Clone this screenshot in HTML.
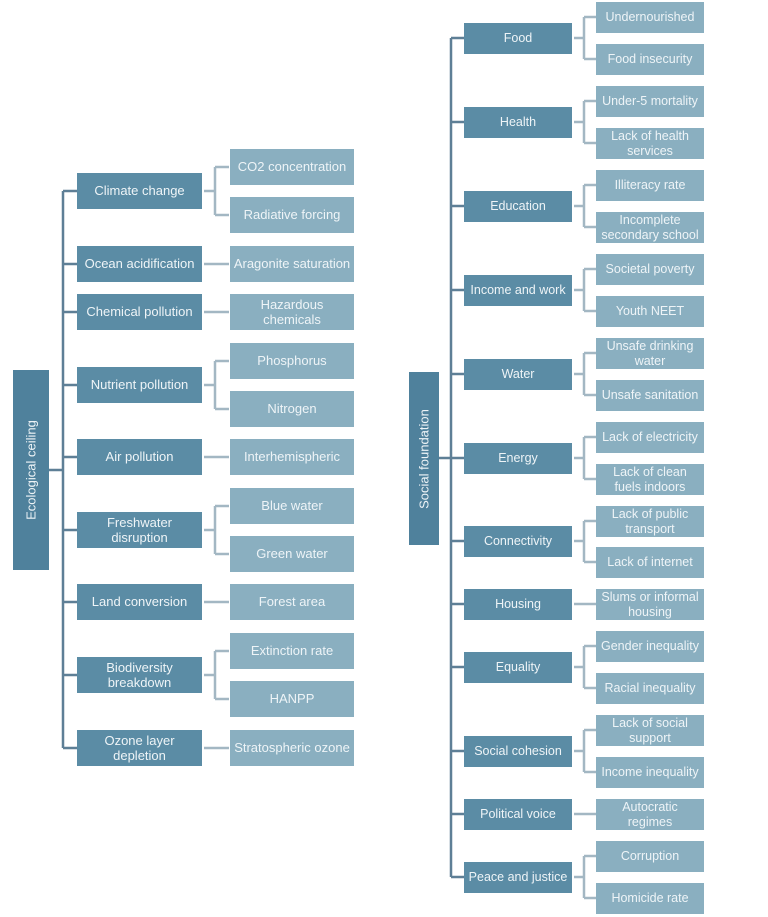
<!DOCTYPE html>
<html><head><meta charset="utf-8"><style>
html,body{margin:0;padding:0;background:#fff;width:768px;height:917px;overflow:hidden;font-family:"Liberation Sans",sans-serif}
.b{position:absolute;display:flex;align-items:center;justify-content:center;text-align:center;color:#eef4f7;line-height:1.18;box-sizing:border-box}
.m{background:#5b8ca5}
.l{background:#8aafc0}
.L{font-size:13px}
.R{font-size:12.5px}
.root{position:absolute;background:#4f819c;color:#eef4f7;font-size:13px}
.root span{position:absolute;left:50%;top:50%;transform:translate(-50%,-50%) rotate(-90deg);white-space:nowrap}
</style></head><body>
<svg width="768" height="917" style="position:absolute;left:0;top:0">
<g stroke="#5e7f96" stroke-width="2.5" fill="none">
<path d="M49 470H63M63 191V748"/>
<path d="M63 191H77M63 264H77M63 312H77M63 385H77M63 457H77M63 530H77M63 602H77M63 675H77M63 748H77"/>
<path d="M439 458H451M451 38V877"/>
<path d="M451 38H464M451 122H464M451 206H464M451 290H464M451 374H464M451 458H464M451 541H464M451 604H464M451 667H464M451 751H464M451 814H464M451 877H464"/>
</g>
<g stroke="#a3b7c3" stroke-width="2.5" fill="none">
<path d="M204 191H215M215 167V215M215 167H229M215 215H229"/>
<path d="M204 264H229M204 312H229M204 457H229M204 602H229M204 748H229"/>
<path d="M204 385H215M215 361V409M215 361H229M215 409H229"/>
<path d="M204 530H215M215 506V554M215 506H229M215 554H229"/>
<path d="M204 675H215M215 651V699M215 651H229M215 699H229"/>
<path d="M574 38H584M584 17V59M584 17H596M584 59H596"/>
<path d="M574 122H584M584 101V143M584 101H596M584 143H596"/>
<path d="M574 206H584M584 185V227M584 185H596M584 227H596"/>
<path d="M574 290H584M584 269V311M584 269H596M584 311H596"/>
<path d="M574 374H584M584 353V395M584 353H596M584 395H596"/>
<path d="M574 458H584M584 437V479M584 437H596M584 479H596"/>
<path d="M574 541H584M584 521V562M584 521H596M584 562H596"/>
<path d="M574 667H584M584 646V688M584 646H596M584 688H596"/>
<path d="M574 751H584M584 730V772M584 730H596M584 772H596"/>
<path d="M574 877H584M584 856V898M584 856H596M584 898H596"/>
<path d="M574 604H596M574 814H596"/>
</g>
</svg>
<div class="root" style="left:13px;top:370px;width:36px;height:200px"><span>Ecological ceiling</span></div>
<div class="root" style="left:409px;top:372px;width:30px;height:173px"><span>Social foundation</span></div>

<div class="b m L" style="left:77px;top:173px;width:125px;height:36px">Climate change</div>
<div class="b m L" style="left:77px;top:246px;width:125px;height:36px">Ocean acidification</div>
<div class="b m L" style="left:77px;top:294px;width:125px;height:36px">Chemical pollution</div>
<div class="b m L" style="left:77px;top:367px;width:125px;height:36px">Nutrient pollution</div>
<div class="b m L" style="left:77px;top:439px;width:125px;height:36px">Air pollution</div>
<div class="b m L" style="left:77px;top:512px;width:125px;height:36px">Freshwater<br>disruption</div>
<div class="b m L" style="left:77px;top:584px;width:125px;height:36px">Land conversion</div>
<div class="b m L" style="left:77px;top:657px;width:125px;height:36px">Biodiversity<br>breakdown</div>
<div class="b m L" style="left:77px;top:730px;width:125px;height:36px">Ozone layer<br>depletion</div>

<div class="b l L" style="left:230px;top:149px;width:124px;height:36px">CO2 concentration</div>
<div class="b l L" style="left:230px;top:197px;width:124px;height:36px">Radiative forcing</div>
<div class="b l L" style="left:230px;top:246px;width:124px;height:36px">Aragonite saturation</div>
<div class="b l L" style="left:230px;top:294px;width:124px;height:36px">Hazardous<br>chemicals</div>
<div class="b l L" style="left:230px;top:343px;width:124px;height:36px">Phosphorus</div>
<div class="b l L" style="left:230px;top:391px;width:124px;height:36px">Nitrogen</div>
<div class="b l L" style="left:230px;top:439px;width:124px;height:36px">Interhemispheric</div>
<div class="b l L" style="left:230px;top:488px;width:124px;height:36px">Blue water</div>
<div class="b l L" style="left:230px;top:536px;width:124px;height:36px">Green water</div>
<div class="b l L" style="left:230px;top:584px;width:124px;height:36px">Forest area</div>
<div class="b l L" style="left:230px;top:633px;width:124px;height:36px">Extinction rate</div>
<div class="b l L" style="left:230px;top:681px;width:124px;height:36px">HANPP</div>
<div class="b l L" style="left:230px;top:730px;width:124px;height:36px">Stratospheric ozone</div>

<div class="b m R" style="left:464px;top:23px;width:108px;height:31px">Food</div>
<div class="b m R" style="left:464px;top:107px;width:108px;height:31px">Health</div>
<div class="b m R" style="left:464px;top:191px;width:108px;height:31px">Education</div>
<div class="b m R" style="left:464px;top:275px;width:108px;height:31px">Income and work</div>
<div class="b m R" style="left:464px;top:359px;width:108px;height:31px">Water</div>
<div class="b m R" style="left:464px;top:443px;width:108px;height:31px">Energy</div>
<div class="b m R" style="left:464px;top:526px;width:108px;height:31px">Connectivity</div>
<div class="b m R" style="left:464px;top:589px;width:108px;height:31px">Housing</div>
<div class="b m R" style="left:464px;top:652px;width:108px;height:31px">Equality</div>
<div class="b m R" style="left:464px;top:736px;width:108px;height:31px">Social cohesion</div>
<div class="b m R" style="left:464px;top:799px;width:108px;height:31px">Political voice</div>
<div class="b m R" style="left:464px;top:862px;width:108px;height:31px">Peace and justice</div>

<div class="b l R" style="left:596px;top:2px;width:108px;height:31px">Undernourished</div>
<div class="b l R" style="left:596px;top:44px;width:108px;height:31px">Food insecurity</div>
<div class="b l R" style="left:596px;top:86px;width:108px;height:31px">Under-5 mortality</div>
<div class="b l R" style="left:596px;top:128px;width:108px;height:31px">Lack of health<br>services</div>
<div class="b l R" style="left:596px;top:170px;width:108px;height:31px">Illiteracy rate</div>
<div class="b l R" style="left:596px;top:212px;width:108px;height:31px">Incomplete<br>secondary school</div>
<div class="b l R" style="left:596px;top:254px;width:108px;height:31px">Societal poverty</div>
<div class="b l R" style="left:596px;top:296px;width:108px;height:31px">Youth NEET</div>
<div class="b l R" style="left:596px;top:338px;width:108px;height:31px">Unsafe drinking<br>water</div>
<div class="b l R" style="left:596px;top:380px;width:108px;height:31px">Unsafe sanitation</div>
<div class="b l R" style="left:596px;top:422px;width:108px;height:31px">Lack of electricity</div>
<div class="b l R" style="left:596px;top:464px;width:108px;height:31px">Lack of clean<br>fuels indoors</div>
<div class="b l R" style="left:596px;top:506px;width:108px;height:31px">Lack of public<br>transport</div>
<div class="b l R" style="left:596px;top:547px;width:108px;height:31px">Lack of internet</div>
<div class="b l R" style="left:596px;top:589px;width:108px;height:31px">Slums or informal<br>housing</div>
<div class="b l R" style="left:596px;top:631px;width:108px;height:31px">Gender inequality</div>
<div class="b l R" style="left:596px;top:673px;width:108px;height:31px">Racial inequality</div>
<div class="b l R" style="left:596px;top:715px;width:108px;height:31px">Lack of social<br>support</div>
<div class="b l R" style="left:596px;top:757px;width:108px;height:31px">Income inequality</div>
<div class="b l R" style="left:596px;top:799px;width:108px;height:31px">Autocratic<br>regimes</div>
<div class="b l R" style="left:596px;top:841px;width:108px;height:31px">Corruption</div>
<div class="b l R" style="left:596px;top:883px;width:108px;height:31px">Homicide rate</div>
</body></html>
